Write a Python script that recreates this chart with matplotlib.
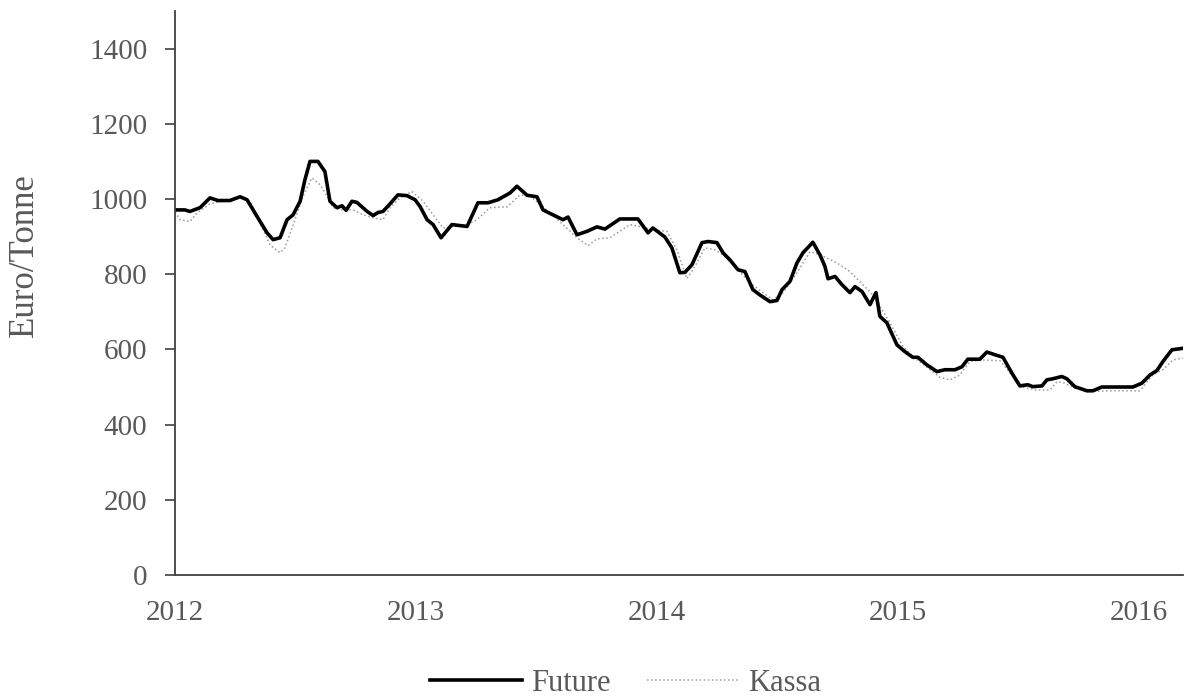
import matplotlib
matplotlib.use('Agg')
import matplotlib.pyplot as plt

# decimal years / Euro per tonne
future_t = [2012.000, 2012.041, 2012.062, 2012.104, 2012.145, 2012.178, 2012.228, 2012.270,
            2012.299, 2012.340, 2012.382, 2012.407, 2012.436, 2012.465, 2012.490, 2012.519,
            2012.539, 2012.560, 2012.593, 2012.622, 2012.643, 2012.672, 2012.693, 2012.710,
            2012.734, 2012.755, 2012.797, 2012.822, 2012.842, 2012.863, 2012.892, 2012.925,
            2012.963, 2012.996, 2013.017, 2013.046, 2013.071, 2013.104, 2013.149, 2013.212,
            2013.257, 2013.299, 2013.340, 2013.390, 2013.419, 2013.461, 2013.502, 2013.527,
            2013.568, 2013.610, 2013.631, 2013.668, 2013.710, 2013.751, 2013.784, 2013.846,
            2013.921, 2013.963, 2013.983, 2014.033, 2014.062, 2014.095, 2014.116, 2014.145,
            2014.187, 2014.212, 2014.249, 2014.274, 2014.303, 2014.336, 2014.365, 2014.398,
            2014.427, 2014.469, 2014.498, 2014.519, 2014.552, 2014.581, 2014.606, 2014.647,
            2014.676, 2014.697, 2014.710, 2014.739, 2014.768, 2014.801, 2014.822, 2014.851,
            2014.884, 2014.909, 2014.925, 2014.954, 2014.996, 2015.029, 2015.062, 2015.083,
            2015.120, 2015.162, 2015.195, 2015.237, 2015.266, 2015.290, 2015.340, 2015.369,
            2015.402, 2015.436, 2015.473, 2015.506, 2015.539, 2015.560, 2015.598, 2015.618,
            2015.643, 2015.680, 2015.701, 2015.734, 2015.784, 2015.809, 2015.846, 2015.880,
            2015.975, 2016.012, 2016.046, 2016.075, 2016.100, 2016.137, 2016.183]
future_v = [971, 971, 967, 977, 1003, 996, 996, 1006,
            998, 954, 910, 892, 897, 945, 958, 994,
            1051, 1100, 1100, 1073, 994, 977, 982, 970,
            994, 991, 967, 956, 964, 967, 987, 1011,
            1009, 998, 980, 945, 932, 897, 932, 927,
            990, 990, 998, 1016, 1034, 1010, 1006, 971,
            958, 945, 952, 905, 914, 926, 920, 947,
            947, 910, 923, 899, 870, 804, 805, 825,
            884, 887, 884, 857, 838, 812, 807, 759,
            745, 727, 730, 759, 781, 830, 857, 885,
            852, 821, 788, 794, 772, 751, 767, 754,
            719, 751, 688, 671, 612, 594, 579, 579,
            559, 541, 546, 546, 554, 574, 574, 593,
            586, 579, 537, 503, 506, 501, 503, 519,
            522, 528, 522, 501, 490, 490, 500, 500,
            500, 510, 532, 544, 568, 599, 603]

kassa_t = [2012.000, 2012.021, 2012.062, 2012.091, 2012.145, 2012.187, 2012.270, 2012.311,
           2012.353, 2012.394, 2012.436, 2012.456, 2012.490, 2012.531, 2012.568, 2012.602,
           2012.631, 2012.656, 2012.697, 2012.739, 2012.780, 2012.822, 2012.863, 2012.892,
           2012.934, 2012.983, 2013.029, 2013.071, 2013.112, 2013.154, 2013.212, 2013.253,
           2013.307, 2013.378, 2013.432, 2013.473, 2013.527, 2013.610, 2013.668, 2013.714,
           2013.751, 2013.805, 2013.888, 2013.929, 2013.983, 2014.041, 2014.083, 2014.124,
           2014.158, 2014.199, 2014.241, 2014.290, 2014.386, 2014.440, 2014.481, 2014.523,
           2014.581, 2014.635, 2014.676, 2014.747, 2014.801, 2014.855, 2014.896, 2014.967,
           2015.021, 2015.062, 2015.174, 2015.216, 2015.257, 2015.299, 2015.353, 2015.423,
           2015.473, 2015.506, 2015.577, 2015.631, 2015.660, 2015.685, 2015.734, 2015.784,
           2015.892, 2016.004, 2016.058, 2016.100, 2016.141, 2016.183]
kassa_v = [965, 945, 940, 963, 987, 993, 1003, 994,
           937, 878, 857, 870, 931, 1007, 1056, 1038,
           1007, 977, 971, 971, 958, 950, 945, 977,
           1003, 1020, 994, 958, 923, 927, 932, 945,
           977, 979, 1011, 1008, 980, 932, 897, 876,
           894, 897, 932, 927, 918, 914, 865, 788,
           821, 870, 865, 844, 777, 751, 732, 751,
           804, 860, 852, 830, 807, 772, 745, 671,
           608, 581, 526, 519, 532, 568, 572, 570,
           532, 501, 492, 492, 514, 512, 497, 488,
           490, 490, 532, 546, 572, 577]

years = [2012, 2013, 2014, 2015, 2016]
yticks = [0, 200, 400, 600, 800, 1000, 1200, 1400]

plt.rcParams['font.family'] = ['Liberation Serif', 'DejaVu Serif']
txt = '#595959'

fig = plt.figure(figsize=(11.85, 6.97), dpi=100)
ax = fig.add_axes([0.1477, 0.175, 0.8506, 0.8092])

ax.plot(kassa_t, kassa_v, ':', color='#9a9a9a', lw=1.1, label='Kassa')
ax.plot(future_t, future_v, '-', color='black', lw=2.6, label='Future')

ax.set_xlim(2012, future_t[-1])
ax.set_ylim(0, 1500)
ax.set_xticks(years)
ax.set_xticklabels([str(y) for y in years])
ax.set_yticks(yticks)

for s in ['top', 'right']:
    ax.spines[s].set_visible(False)
for s in ['left', 'bottom']:
    ax.spines[s].set_color('#404040')
    ax.spines[s].set_linewidth(1.3)

ax.tick_params(axis='x', length=0, pad=18, labelsize=21, labelcolor=txt)
ax.tick_params(axis='y', length=7, width=1.2, color='#404040', pad=13, labelsize=21, labelcolor=txt)

ax.set_ylabel('Euro/Tonne', fontsize=25, color=txt)
ax.yaxis.set_label_coords(-0.133, 0.567)

h, l = ax.get_legend_handles_labels()
fig.legend(h[::-1], l[::-1], loc='center', bbox_to_anchor=(0.528, 0.02), ncol=2,
           frameon=False, fontsize=22, handlelength=3.0, handletextpad=0.3,
           columnspacing=1.2, labelcolor=txt)

plt.savefig('out.png', dpi=100)
